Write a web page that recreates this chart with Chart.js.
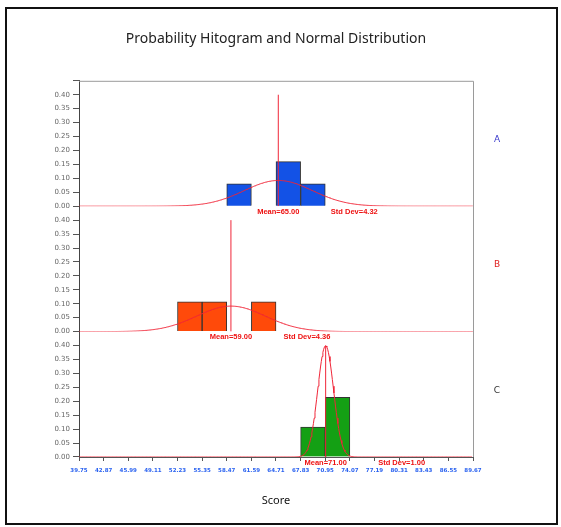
<!DOCTYPE html>
<html>
<head>
<meta charset="utf-8">
<script src="https://cdn.jsdelivr.net/npm/chart.js@4.4.1/dist/chart.umd.min.js"></script>
<style>
  html, body { margin: 0; padding: 0; background: #fff; }
  #wrap { position: relative; width: 561px; height: 527px; }
  #frame { position: absolute; left: 5px; top: 7px; width: 549px; height: 514px; border: 2px solid #111; pointer-events: none; }
  canvas { position: absolute; left: 0; top: 0; }
</style>
</head>
<body>
<div id="wrap">
  <canvas id="histChart" width="561" height="527"></canvas>
  <div id="frame"></div>
</div>
<script>
// tick values on the Score axis
var xTicks = [39.75, 42.87, 45.99, 49.11, 52.23, 55.35, 58.47, 61.59, 64.71,
              67.83, 70.95, 74.07, 77.19, 80.31, 83.43, 86.55, 89.67];

var groups = ['A', 'B', 'C'];
var means = [65.00, 59.00, 71.00];
var sds = [4.32, 4.36, 1.00];

// bin centres and probability density of each bar
var binsA = [60.03, 66.27, 69.39];
var densA = [0.080, 0.160, 0.080];
var binsB = [53.79, 56.91, 63.15];
var densB = [0.107, 0.107, 0.107];
var binsC = [69.39, 72.51];
var densC = [0.107, 0.214];

var bins = [binsA, binsB, binsC];
var dens = [densA, densB, densC];
var barColors = ['#1352e6', '#ff4a0a', '#14a014'];
var labelColors = ['#3a3acc', '#e02020', '#333333'];
var axisIds = ['yA', 'yB', 'yC'];
var curveColor = '#f02638';

// normal density for the stated mean / std dev
function normalCurve(mean, sd) {
    var pts = [];
    for (var x = xTicks[0]; x <= xTicks[xTicks.length - 1] + 1e-9; x += 0.1) {
        var z = (x - mean) / sd;
        pts.push({ x: x, y: Math.exp(-0.5 * z * z) / (sd * Math.sqrt(2 * Math.PI)) });
    }
    return pts;
}

var datasets = [];
groups.forEach(function (g, i) {
    datasets.push({
        type: 'line',
        label: g + ' normal',
        data: normalCurve(means[i], sds[i]),
        yAxisID: axisIds[i],
        borderColor: curveColor,
        borderWidth: 1,
        pointRadius: 0,
        tension: 0,
        order: 1
    });
    datasets.push({
        type: 'line',
        label: g + ' mean',
        data: [{ x: means[i], y: 0 }, { x: means[i], y: 0.40 }],
        yAxisID: axisIds[i],
        borderColor: curveColor,
        borderWidth: 1,
        pointRadius: 0,
        order: 2
    });
    datasets.push({
        type: 'bar',
        label: g,
        data: bins[i].map(function (b, k) { return { x: b, y: dens[i][k] }; }),
        yAxisID: axisIds[i],
        backgroundColor: barColors[i],
        borderColor: '#333',
        borderWidth: 1,
        grouped: false,
        barPercentage: 1,
        categoryPercentage: 1,
        order: 3
    });
});

function panelAxis() {
    return {
        type: 'linear',
        position: 'left',
        stack: 'panels',
        stackWeight: 1,
        min: 0,
        max: 0.45,
        ticks: {
            stepSize: 0.05,
            autoSkip: false,
            color: '#666',
            padding: 3,
            font: { size: 7, family: 'DejaVu Sans' },
            callback: function (v) { return v > 0.42 ? '' : v.toFixed(2); }
        },
        grid: { drawOnChartArea: false, tickLength: 6, color: '#555' },
        border: { color: '#444' },
        afterFit: function (s) { s.width = 79; }
    };
}

// labels under each panel, panel letters and the plot frame
var annotate = {
    id: 'annotate',
    afterDatasetsDraw: function (chart) {
        var ctx = chart.ctx, area = chart.chartArea, sx = chart.scales.x;
        ctx.save();
        ctx.strokeStyle = '#9a9a9a';
        ctx.lineWidth = 1;
        ctx.beginPath();
        ctx.moveTo(area.left, area.top + 0.5);
        ctx.lineTo(area.right + 0.5, area.top + 0.5);
        ctx.lineTo(area.right + 0.5, area.bottom);
        ctx.stroke();
        groups.forEach(function (g, i) {
            var sy = chart.scales[axisIds[i]];
            var mx = sx.getPixelForValue(means[i]);
            ctx.fillStyle = '#ee1111';
            ctx.font = 'bold 7.5px "Liberation Sans"';
            ctx.textAlign = 'center';
            ctx.textBaseline = 'top';
            ctx.fillText('Mean=' + means[i].toFixed(2), mx, sy.bottom + 2);
            ctx.fillText('Std Dev=' + sds[i].toFixed(2), mx + 76, sy.bottom + 2);
            ctx.fillStyle = labelColors[i];
            ctx.font = '9px "DejaVu Sans"';
            ctx.textBaseline = 'middle';
            ctx.fillText(g, area.right + 24, (sy.top + sy.bottom) / 2 - 4);
        });
        ctx.restore();
    }
};

var ctx = document.getElementById('histChart').getContext('2d');
var histChart = new Chart(ctx, {
    type: 'bar',
    data: { datasets: datasets },
    plugins: [annotate],
    options: {
        responsive: false,
        animation: false,
        layout: { padding: { left: 0, right: 88, top: 0, bottom: 0 } },
        plugins: {
            legend: { display: false },
            tooltip: { enabled: false },
            title: {
                display: true,
                fullSize: false,
                text: 'Probability Hitogram and Normal Distribution',
                color: '#222',
                font: { size: 14, family: 'Noto Sans', weight: 'normal' },
                padding: { top: 31, bottom: 33 }
            }
        },
        scales: {
            x: {
                type: 'linear',
                position: 'bottom',
                offset: false,
                min: xTicks[0],
                max: xTicks[xTicks.length - 1],
                afterBuildTicks: function (s) {
                    s.ticks = xTicks.map(function (v) { return { value: v }; });
                },
                ticks: {
                    autoSkip: false,
                    maxRotation: 0,
                    color: '#2a62f0',
                    padding: 6,
                    font: { size: 5.5, weight: 'bold', family: 'DejaVu Sans' },
                    callback: function (v) { return v.toFixed(2); }
                },
                grid: { drawOnChartArea: false, offset: false, tickLength: 4, color: '#555' },
                border: { color: '#555' },
                title: {
                    display: true,
                    text: 'Score',
                    color: '#111',
                    font: { size: 11, family: 'Noto Sans' },
                    padding: { top: 0, bottom: 20 }
                },
                afterFit: function (s) { s.height = 70; }
            },
            yC: panelAxis(),
            yB: panelAxis(),
            yA: panelAxis()
        }
    }
});
</script>
</body>
</html>
